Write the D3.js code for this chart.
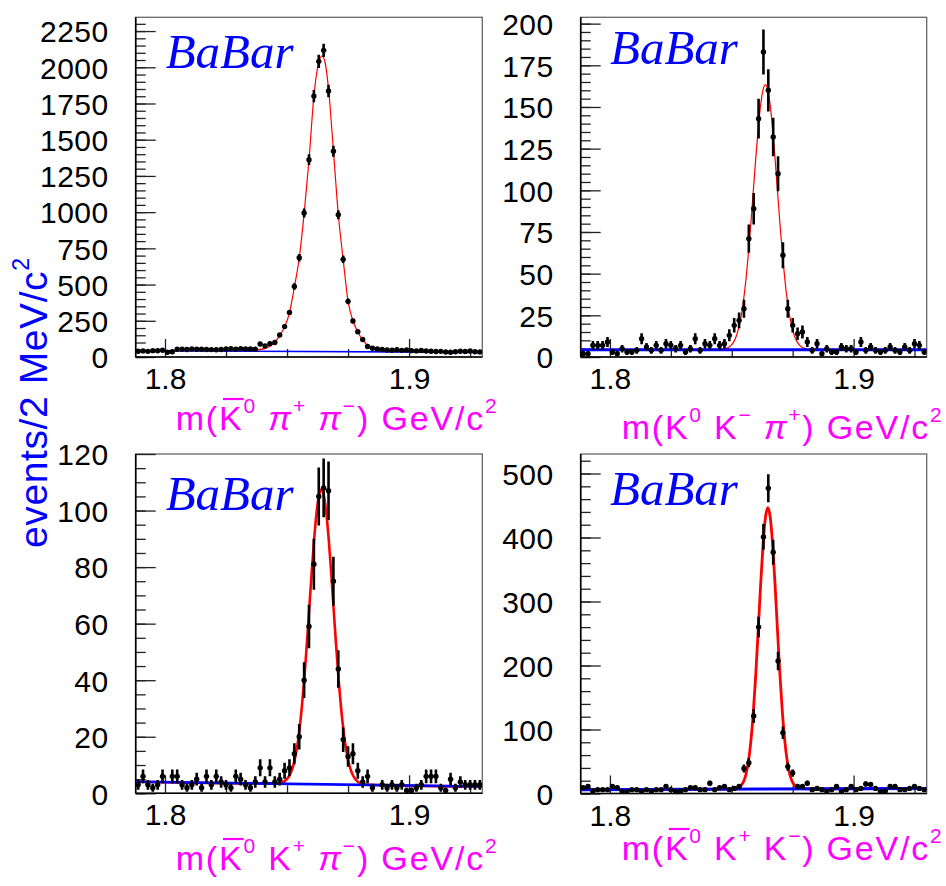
<!DOCTYPE html>
<html><head><meta charset="utf-8">
<script src="https://cdn.jsdelivr.net/npm/d3@7"></script>
<style>body{margin:0;background:#fff}svg{display:block}</style>
</head><body>
<svg id="c" width="946" height="886"></svg>
<script>
// ---------------- DATA ----------------
const xRange = [1.788, 1.930];          // GeV/c^2, 2 MeV bins
const binCount = 71;
const binCenters = d3.range(binCount).map(i => 1.789 + 0.002 * i);
const xMajorTicks = [1.8, 1.9];
const xMinorTicks = [1.825, 1.85, 1.875, 1.925];

// panel 1 : m(K0bar pi+ pi-)
const countsKsPiPi = [40,42,39,44,43,47,33,36,53,54,52,55,54,53,52,51,50,52,55,57,54,58,56,55,54,
  90,76,92,100,152,210,307,487,685,994,1362,1801,2041,2117,1836,1420,982,674,384,249,174,121,72,60,56,52,
  48,47,50,46,48,44,42,45,41,40,38,39,34,33,36,40,38,41,36,34];
const fitKsPiPiX = [1.788,1.820,1.832,1.837,1.839,1.841,1.843,1.845,1.847,1.849,1.851,1.853,1.855,1.857,1.859,1.861,1.863,1.8643,1.8655,1.867,1.869,1.871,1.873,1.875,1.877,1.879,1.881,1.883,1.885,1.887,1.890,1.895,1.905,1.930];
const fitKsPiPiY = [44,45,47,49,52,60,75,103,148,208,305,482,682,990,1358,1800,2035,2078,2040,1852,1425,985,672,386,250,172,118,82,62,51,44,41,38,33];
const bgKsPiPiX = [1.788, 1.930];
const bgKsPiPiY = [43, 32];
const yTicksKsPiPi = [0,250,500,750,1000,1250,1500,1750,2000,2250];

// panel 2 : m(K0 K- pi+)
const countsKsKPi = [2,2,7,7,7,9,3,2,5,3,3,4,11,6,4,7,4,8,7,5,7,3,5,11,4,8,7,11,7,8,13,19,22,29,
  71,89,143,183,160,132,110,61,29,19,14,15,9,4,8,2,5,3,3,6,5,5,3,9,4,6,4,3,4,6,4,3,6,4,8,7,3];
const fitKsKPiX = [1.788,1.8438,1.8478,1.8498,1.8508,1.8518,1.8528,1.8538,1.8548,1.8558,1.8568,1.8578,1.8588,1.8598,1.8608,1.8618,1.8628,1.8638,1.8648,1.8658,1.8668,1.8678,1.8688,1.8698,1.8708,1.8718,1.8728,1.8738,1.8748,1.8758,1.8768,1.8778,1.8798,1.8838,1.930];
const fitKsKPiY = [4.4,4.6,5.2,7.1,9.1,12.3,17.2,24.2,33.8,46.3,61.7,79.5,98.9,118.4,136.2,150.7,160,163.4,160,150.7,136.2,118.4,98.9,79.5,61.7,46.3,33.8,24.2,17.2,12.3,9.1,7.1,5.2,4.6,4.4];
const bgKsKPiX = [1.788, 1.930];
const bgKsKPiY = [4.4, 4.4];
const yTicksKsKPi = [0,25,50,75,100,125,150,175,200];

// panel 3 : m(K0bar K+ pi-)
const countsKbKPi = [3,6,3,2,3,6,0,6,6,3,2,3,5,2,6,3,6,4,3,2,6,5,3,2,4,9,4,9,4,5,8,9,14,20,
  40,59,81,105,108,107,75,44,19,13,14,8,4,6,2,0,3,2,3,2,3,1,1,2,3,6,6,6,2,1,5,2,4,3,3,3,3];
const fitKbKPiX = [1.788,1.840,1.8461,1.8481,1.8501,1.8511,1.8521,1.8531,1.8541,1.8551,1.8561,1.8571,1.8581,1.8591,1.8601,1.8611,1.8621,1.8631,1.8641,1.8651,1.8661,1.8671,1.8681,1.8691,1.8701,1.8711,1.8721,1.8731,1.8741,1.8751,1.8761,1.8771,1.8781,1.8801,1.8821,1.888,1.930];
const fitKbKPiY = [4.1,3.5,3.5,3.9,5.2,6.5,8.6,11.7,16.3,22.6,30.8,40.8,52.6,65.3,78.1,89.8,99.3,105.4,107.5,105.3,99.1,89.6,77.9,65.1,52.4,40.6,30.6,22.4,16.1,11.5,8.3,6.2,4.9,3.5,3.1,2.9,2.4];
const bgKbKPiX = [1.788, 1.930];
const bgKbKPiY = [4.1, 2.4];
const yTicksKbKPi = [0,20,40,60,80,100,120];

// panel 4 : m(K0bar K+ K-)
const countsKbKK = [9,11,4,6,6,6,11,9,3,3,6,6,3,6,3,6,6,11,6,3,4,6,9,9,6,6,16,6,9,11,6,8,11,39,
  48,121,260,401,477,377,207,95,42,32,11,11,16,6,8,6,3,6,11,3,6,11,6,8,15,14,8,3,4,11,11,6,6,8,11,8,6];
const fitKbKKX = [1.788,1.845,1.8508,1.8528,1.8538,1.8548,1.8558,1.8568,1.8578,1.8588,1.8598,1.8608,1.8618,1.8628,1.8638,1.8648,1.8658,1.8668,1.8678,1.8688,1.8698,1.8708,1.8718,1.8728,1.8738,1.8748,1.8758,1.8768,1.8788,1.885,1.930];
const fitKbKKY = [6.0,6.8,7.2,9.2,12.2,18.3,29.7,49.4,80.3,124.9,183.1,251.9,323.3,386.6,430.6,446.6,431.0,387.0,323.7,252.3,183.5,125.3,80.7,49.8,30.1,18.7,12.6,9.6,7.6,7.3,8.0];
const bgKbKKX = [1.788, 1.930];
const bgKbKKY = [6.0, 8.0];
const yTicksKbKK = [0,100,200,300,400,500];

// axis titles (text parts)
const titleKsPiPi = [{t:"m("},{t:"K",bar:true},{t:"0",sup:true},{t:" "},{t:"π",it:true},{t:"+",sup:true},{t:" "},{t:"π",it:true},{t:"−",sup:true},{t:") GeV/c"},{t:"2",sup:true}];
const titleKsKPi  = [{t:"m("},{t:"K"},{t:"0",sup:true},{t:" "},{t:"K"},{t:"−",sup:true},{t:" "},{t:"π",it:true},{t:"+",sup:true},{t:") GeV/c"},{t:"2",sup:true}];
const titleKbKPi  = [{t:"m("},{t:"K",bar:true},{t:"0",sup:true},{t:" "},{t:"K"},{t:"+",sup:true},{t:" "},{t:"π",it:true},{t:"−",sup:true},{t:") GeV/c"},{t:"2",sup:true}];
const titleKbKK   = [{t:"m("},{t:"K",bar:true},{t:"0",sup:true},{t:" "},{t:"K"},{t:"+",sup:true},{t:" "},{t:"K"},{t:"−",sup:true},{t:") GeV/c"},{t:"2",sup:true}];
const yTitle = "events/2 MeV/c";
const expLabel = "BaBar";

// ---------------- LAYOUT / STYLE ----------------
const FONT = "'Liberation Sans', Arial, Helvetica, sans-serif";
const panels = [
  {counts:countsKsPiPi, fx:fitKsPiPiX, fy:fitKsPiPiY, bx:bgKsPiPiX, by:bgKsPiPiY, yt:yTicksKsPiPi, minor:50, yMax:2345, title:titleKsPiPi,
   frame:{x:135.7,y:17.3,w:346.6,h:339.7}, label:[165.7,67.7], titlePos:[175.7,430,321], fitW:1.2, bgW:1.6},
  {counts:countsKsKPi, fx:fitKsKPiX, fy:fitKsKPiY, bx:bgKsKPiX, by:bgKsKPiY, yt:yTicksKsKPi, minor:5, yMax:203.8, title:titleKsKPi,
   frame:{x:580.7,y:17.3,w:346,h:339.7}, label:[610,64.3], titlePos:[621.7,439,320], fitW:1.2, bgW:3},
  {counts:countsKbKPi, fx:fitKbKPiX, fy:fitKbKPiY, bx:bgKbKPiX, by:bgKbKPiY, yt:yTicksKbKPi, minor:5, yMax:120, title:titleKbKPi,
   frame:{x:135.7,y:454,w:346.6,h:339.3}, label:[165.7,510], titlePos:[175.7,870,321], fitW:2.6, bgW:2.6},
  {counts:countsKbKK, fx:fitKbKKX, fy:fitKbKKY, bx:bgKbKKX, by:bgKbKKY, yt:yTicksKbKK, minor:20, yMax:530.5, title:titleKbKK,
   frame:{x:580.7,y:454,w:346,h:339.5}, label:[610,505], titlePos:[621.7,860,320], fitW:2.8, bgW:3}
];

const svg = d3.select("#c");
svg.append("rect").attr("width",946).attr("height",886).attr("fill","#fff");

function drawTitle(parts, x0, y0, width) {
  const t = svg.append("text").attr("x", x0).attr("y", y0).attr("fill", "#ff00ff")
    .attr("font-family", FONT).attr("font-size", 34).style("white-space", "pre")
    .attr("textLength", width).attr("lengthAdjust", "spacing");
  let idx = 0, raised = false;
  const bars = [];
  parts.forEach(p => {
    const ts = t.append("tspan").text(p.t);
    if (p.sup) { ts.attr("font-size", 21); if (!raised) ts.attr("dy", -17); raised = true; }
    else if (raised) { ts.attr("dy", 17); raised = false; }
    if (p.it) ts.attr("font-style", "italic");
    if (p.bar) bars.push(idx);
    idx += p.t.length;
  });
  bars.forEach(i => {
    const e = t.node().getExtentOfChar(i);
    svg.append("line").attr("x1", e.x + 4).attr("x2", e.x + e.width + 2)
      .attr("y1", y0 - 31).attr("y2", y0 - 31)
      .attr("stroke", "#ff00ff").attr("stroke-width", 2.2);
  });
}

panels.forEach((p, k) => {
  const f = p.frame;
  const x = d3.scaleLinear().domain(xRange).range([f.x, f.x + f.w]);
  const y = d3.scaleLinear().domain([0, p.yMax]).range([f.y + f.h, f.y]);
  const g = svg.append("g");
  const clipId = "clip" + k;
  g.append("clipPath").attr("id", clipId).append("rect")
    .attr("x", f.x).attr("y", f.y).attr("width", f.w).attr("height", f.h);

  // frame
  g.append("rect").attr("x", f.x).attr("y", f.y).attr("width", f.w).attr("height", f.h)
    .attr("fill", "none").attr("stroke", "#666").attr("stroke-width", 1.3);

  // y axis minor / major ticks (inward)
  const minorVals = d3.range(0, p.yMax, p.minor);
  g.append("g").attr("transform", `translate(${f.x},0)`)
    .call(d3.axisLeft(y).tickValues(minorVals).tickSize(-10).tickFormat(""))
    .call(s => s.select(".domain").remove())
    .selectAll("line").attr("stroke", "#222").attr("stroke-width", 1.3);
  const ya = g.append("g").attr("transform", `translate(${f.x},0)`)
    .call(d3.axisLeft(y).tickValues(p.yt).tickSize(-20).tickPadding(27).tickFormat(d3.format("d")));
  ya.select(".domain").remove();
  ya.selectAll("line").attr("stroke", "#222").attr("stroke-width", 1.3);
  ya.selectAll("text").attr("font-family", FONT).attr("font-size", 30).attr("fill", "#000")
    .attr("letter-spacing", 0.5).attr("dy", "0.36em");

  // x axis
  const xb = f.y + f.h;
  g.append("g").attr("transform", `translate(0,${xb})`)
    .call(d3.axisBottom(x).tickValues(xMinorTicks).tickSize(-8).tickFormat(""))
    .call(s => s.select(".domain").remove())
    .selectAll("line").attr("stroke", "#222").attr("stroke-width", 1.3);
  const xa = g.append("g").attr("transform", `translate(0,${xb})`)
    .call(d3.axisBottom(x).tickValues(xMajorTicks).tickSize(-18).tickFormat(d3.format(".1f")));
  xa.select(".domain").remove();
  xa.selectAll("line").attr("stroke", "#222").attr("stroke-width", 1.3);
  xa.selectAll("text").attr("font-family", FONT).attr("font-size", 30).attr("fill", "#000")
    .attr("y", 32).attr("dy", null);

  // axis lines
  g.append("line").attr("x1", f.x).attr("x2", f.x).attr("y1", f.y).attr("y2", xb).attr("stroke", "#000").attr("stroke-width", 1.6);
  g.append("line").attr("x1", f.x).attr("x2", f.x + f.w).attr("y1", xb).attr("y2", xb).attr("stroke", "#000").attr("stroke-width", 1.6);

  const plot = g.append("g").attr("clip-path", `url(#${clipId})`);
  // fit (signal + background)
  const fitPts = p.fx.map((v, i) => [v, p.fy[i]]);
  plot.append("path").datum(fitPts)
    .attr("d", d3.line().x(d => x(d[0])).y(d => y(d[1])).curve(d3.curveMonotoneX))
    .attr("fill", "none").attr("stroke", "#ff0000").attr("stroke-width", p.fitW);
  // background
  const bgPts = p.bx.map((v, i) => [v, p.by[i]]);
  plot.append("path").datum(bgPts)
    .attr("d", d3.line().x(d => x(d[0])).y(d => y(d[1])))
    .attr("fill", "none").attr("stroke", "#0000ff").attr("stroke-width", p.bgW);

  // data points with Poisson errors
  const pts = p.counts.map((c, i) => ({x: binCenters[i], c})).filter(d => d.c > 0);
  plot.selectAll(".err").data(pts).enter().append("line")
    .attr("x1", d => x(d.x)).attr("x2", d => x(d.x))
    .attr("y1", d => y(d.c - Math.sqrt(d.c))).attr("y2", d => y(d.c + Math.sqrt(d.c)))
    .attr("stroke", "#000").attr("stroke-width", 2.6);
  plot.selectAll(".pt").data(pts).enter().append("circle")
    .attr("cx", d => x(d.x)).attr("cy", d => y(d.c)).attr("r", 2.7).attr("fill", "#000");

  // BaBar label
  g.append("text").attr("x", p.label[0]).attr("y", p.label[1]).text(expLabel)
    .attr("font-family", "'Liberation Serif', 'Times New Roman', serif").attr("font-style", "italic")
    .attr("font-size", 49).attr("fill", "#0000ff");

  drawTitle(p.title, p.titlePos[0], p.titlePos[1], p.titlePos[2]);
});

// y axis title
const yt = svg.append("text").attr("transform", "translate(47,403) rotate(-90)")
  .attr("text-anchor", "middle").attr("fill", "#0000ff").attr("font-family", FONT)
  .attr("font-size", 39).attr("textLength", 290).attr("lengthAdjust", "spacing");
yt.append("tspan").text(yTitle);
yt.append("tspan").text("2").attr("font-size", 23).attr("dy", -18);
</script>
</body></html>
